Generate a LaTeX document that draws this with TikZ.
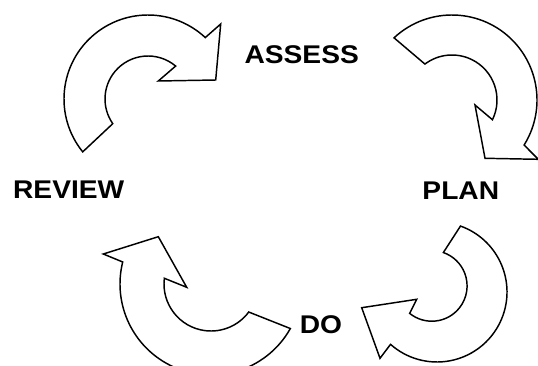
\documentclass[tikz,border=0pt]{standalone}
\usepackage{fontspec}
\setmainfont{Liberation Sans}
\usetikzlibrary{calc}
\begin{document}
\begin{tikzpicture}[x=0.75pt,y=0.75pt,
  arrowshape/.style={draw=black, line width=1.1pt, line join=miter},
  lbl/.style={inner sep=0pt, font=\fontsize{19.2pt}{22pt}\selectfont\bfseries}]
\clip (0,0) rectangle (538,365);
\fill[white] (0,0) rectangle (538,365);
% centres
\coordinate (C1) at (148,266);
\coordinate (C2) at (452,265);
\coordinate (Co3) at (437,73);
\coordinate (Ci3) at (431.8,79.1);
\coordinate (C4) at (211,81);
% arrow 1 (top left)
\draw[arrowshape] ($(C1)+(219:84)$) arc[start angle=219, end angle=47, radius=84]
  -- (220.7,341) -- (215.7,285) -- (158.3,284)
  -- ($(C1)+(50:43)$) arc[start angle=50, end angle=215, radius=43] -- cycle;
% arrow 2 (top right)
\draw[arrowshape] ($(C2)+(133:85)$) arc[start angle=133, end angle=-32, radius=85]
  -- (538.3,205.7) -- (485,206.7) -- (475,260)
  -- ($(C2)+(-26:45)$) arc[start angle=-26, end angle=127, radius=45] -- cycle;
% arrow 3 (bottom right)
\draw[arrowshape] ($(Co3)+(70.4:70)$) arc[start angle=70.4, end angle=-131.6, radius=70]
  -- (380,6.7) -- (361.7,57.3) -- (416.7,65.7)
  -- ($(Ci3)+(-128.9:35.3)$) arc[start angle=-128.9, end angle=70.9, radius=35.3] -- cycle;
% arrow 4 (bottom left)
\draw[arrowshape] ($(C4)+(-29.3:91)$) arc[start angle=-29.3, end angle=-194, radius=91]
  -- (103.3,111) -- (158.3,128.3) -- (186.7,77.7)
  -- ($(C4)+(173:47)$) arc[start angle=-187, end angle=-36.6, radius=47] -- cycle;
% labels
\node[lbl] (assess) at (301.7,310.8) {\scalebox{1.1}[1]{ASSESS}};
\node[lbl] (plan) at (460.8,174.5) {\scalebox{1.1}[1]{PLAN}};
\node[lbl] (review) at (68.7,175.8) {\scalebox{1.1}[1]{REVIEW}};
\node[lbl] (do) at (321,40.5) {\scalebox{1.1}[1]{DO}};
\end{tikzpicture}
\end{document}
